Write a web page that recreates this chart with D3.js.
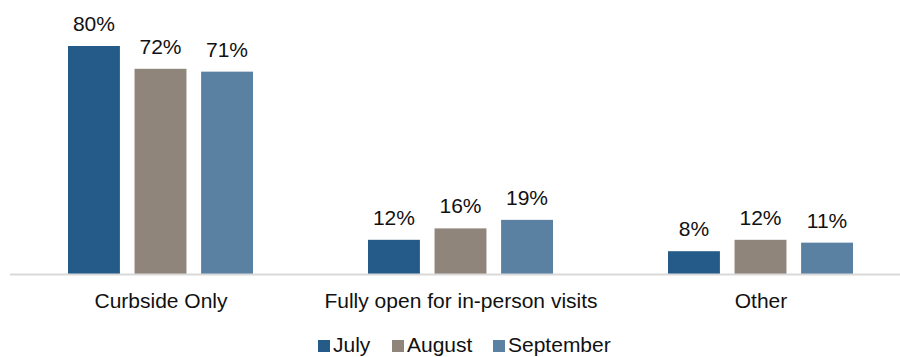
<!DOCTYPE html>
<html>
<head>
<meta charset="utf-8">
<script src="https://cdn.jsdelivr.net/npm/d3@7"></script>
<style>
  html, body { margin: 0; padding: 0; background: #fff; }
  svg { display: block; font-family: "Liberation Sans", Arial, sans-serif; }
</style>
</head>
<body>
<svg id="chart" width="900" height="357"></svg>
<script>
// Categories, series and values (percent)
const categories = ["Curbside Only", "Fully open for in-person visits", "Other"];
const seriesNames = ["July", "August", "September"];
const julyValues = [80, 12, 8];
const augustValues = [72, 16, 12];
const septemberValues = [71, 19, 11];
const seriesColors = ["#255B88", "#8F857B", "#5B81A2"];

const seriesValues = [julyValues, augustValues, septemberValues];

const svg = d3.select("#chart");
const baseline = 274;
const fontSize = 21;

const x0 = d3.scaleBand().domain(categories).range([11, 911]).padding(0);
const x1 = d3.scaleBand().domain(seriesNames).range([57, 242]).paddingInner(0.22).paddingOuter(0);
const y = d3.scaleLinear().domain([0, 80]).range([baseline, 46]);
const color = d3.scaleOrdinal().domain(seriesNames).range(seriesColors);

const rows = categories.map((c, i) => ({
  category: c,
  values: seriesNames.map((s, j) => ({ series: s, value: seriesValues[j][i] }))
}));

const groups = svg.selectAll("g.group")
  .data(rows)
  .join("g")
  .attr("class", "group")
  .attr("transform", d => `translate(${x0(d.category)},0)`);

groups.selectAll("rect")
  .data(d => d.values)
  .join("rect")
  .attr("x", d => x1(d.series))
  .attr("y", d => y(d.value))
  .attr("width", x1.bandwidth())
  .attr("height", d => baseline - y(d.value))
  .attr("fill", d => color(d.series));

groups.selectAll("text.value")
  .data(d => d.values)
  .join("text")
  .attr("class", "value")
  .attr("x", d => x1(d.series) + x1.bandwidth() / 2)
  .attr("y", d => y(d.value) - 15)
  .attr("text-anchor", "middle")
  .attr("font-size", fontSize)
  .attr("fill", "#111")
  .text(d => d.value + "%");

// Category axis: a light baseline with centred labels
const xAxis = d3.axisBottom(x0).tickSize(0).tickPadding(19);
const axisG = svg.append("g")
  .attr("transform", `translate(0,${baseline})`)
  .call(xAxis);
axisG.select(".domain").remove();
axisG.selectAll("text")
  .attr("font-size", fontSize)
  .attr("font-family", "Liberation Sans, Arial, sans-serif")
  .attr("fill", "#111");

svg.append("line")
  .attr("x1", 10).attr("x2", 900)
  .attr("y1", baseline + 0.5).attr("y2", baseline + 0.5)
  .attr("stroke", "#D9D9D9")
  .attr("stroke-width", 2);

// Legend
const legendX = [318, 392, 493];
const legend = svg.append("g");
const items = legend.selectAll("g")
  .data(seriesNames)
  .join("g")
  .attr("transform", (d, i) => `translate(${legendX[i]},340)`);
items.append("rect")
  .attr("width", 12).attr("height", 12)
  .attr("fill", d => color(d));
items.append("text")
  .attr("x", 15).attr("y", 11.5)
  .attr("font-size", fontSize)
  .attr("fill", "#111")
  .text(d => d);
</script>
</body>
</html>
